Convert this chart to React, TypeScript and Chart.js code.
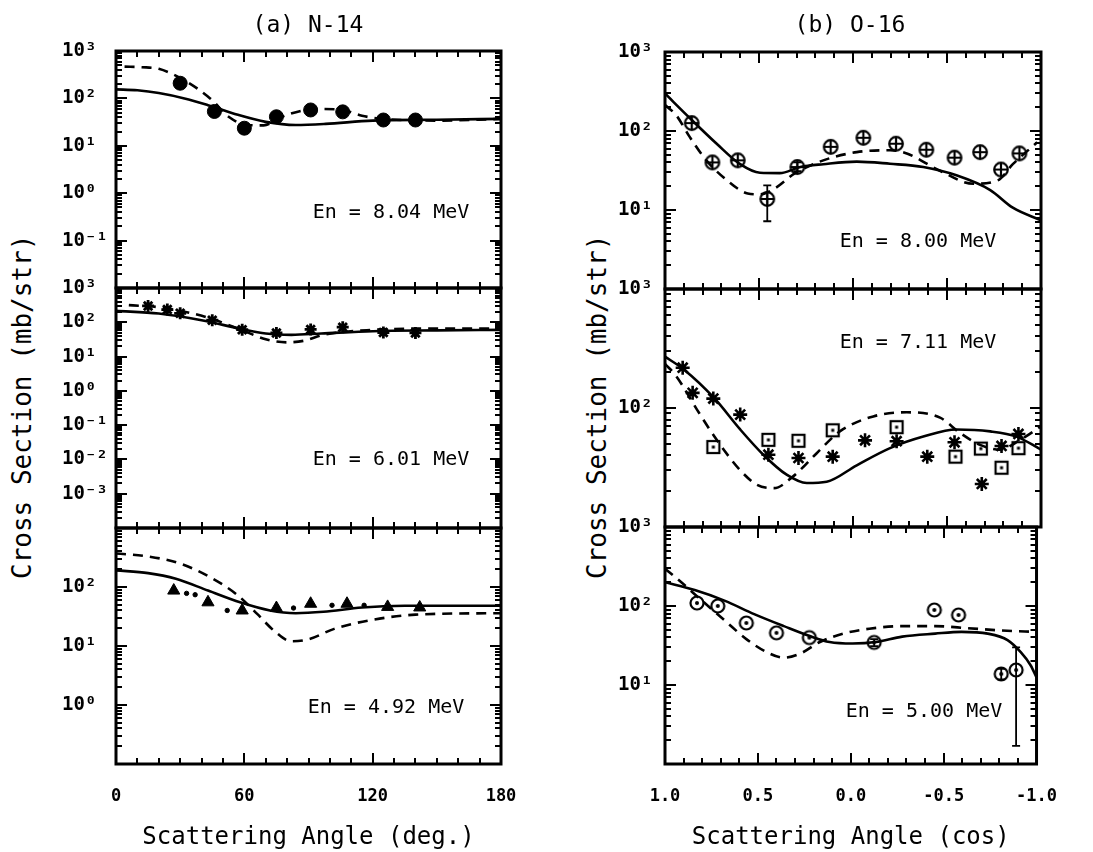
import React, { useEffect, useRef } from "react";
import { Chart, registerables } from "chart.js";
Chart.register(...registerables);

type Pt = [number, number];
type Err = [number, number, number];

const FONT = '"DejaVu Sans Mono", "Liberation Mono", monospace';
const PAGE_H = 852;

// ---------- tick labels ----------
const DEG_TICKS = [0, 60, 120, 180];
const COS_TICKS = [1, 0.5, 0, -0.5, -1];
const YLAB_A1 = [1000, 100, 10, 1, 0.1];
const YLAB_A2 = [1000, 100, 10, 1, 0.1, 0.01, 0.001];
const YLAB_A3 = [100, 10, 1];
const YLAB_B1 = [1000, 100, 10];
const YLAB_B2 = [1000, 100];
const YLAB_B3 = [1000, 100, 10];

// ---------- (a) N-14, En = 8.04 MeV ----------
const a804Exp: Pt[] = [[30, 209], [46, 53], [60, 23.5], [75, 41], [91, 57], [106, 52], [125, 35], [140, 35]];
const a804Solid: Pt[] = [[0, 155], [10, 148], [20, 130], [32, 100], [43, 72], [57, 45], [70, 32], [84, 27.5], [98, 29], [120, 34], [150, 35.5], [180, 37]];
const a804Dash: Pt[] = [[4, 467], [12, 455], [20, 420], [32, 240], [44, 100], [53, 40], [61, 27.5], [69, 27], [77, 40], [87, 55], [95, 60], [106, 57], [115, 43], [125, 37], [150, 34], [180, 37]];

// ---------- (a) N-14, En = 6.01 MeV ----------
const a601Exp: Pt[] = [[15, 300], [24, 235], [30, 183], [45, 115], [59, 61], [75, 49], [91, 62], [106, 72], [125, 50], [140, 49]];
const a601Solid: Pt[] = [[0, 215], [20, 180], [40, 115], [58, 65], [70, 47], [82, 43], [96, 47], [120, 55], [150, 58], [180, 60]];
const a601Dash: Pt[] = [[6, 316], [20, 275], [42, 143], [58, 62], [70, 32], [80, 26], [88, 29], [97, 43], [120, 60], [150, 66], [180, 66]];

// ---------- (a) N-14, En = 4.92 MeV ----------
const a492Exp: Pt[] = [[27, 87], [43, 55], [59, 40], [75, 44], [91, 52], [108, 52], [127, 46], [142, 45]];
const a492Dots: Pt[] = [[33, 78], [37, 74], [52, 40], [83, 44], [101, 49], [116, 49]];
const a492Solid: Pt[] = [[0, 191], [15, 172], [28, 138], [43, 87], [58, 55], [72, 40], [84, 36], [97, 38], [115, 45], [135, 48], [180, 48]];
const a492Dash: Pt[] = [[0, 370], [15, 330], [30, 250], [45, 140], [57, 72], [66, 35], [74, 18], [82, 12], [90, 13], [102, 19.5], [118, 27], [140, 34], [180, 36]];

// ---------- (b) O-16, En = 8.00 MeV ----------
const b800Exp: Pt[] = [[0.858, 126], [0.748, 40], [0.613, 42.5], [0.456, 13.8], [0.296, 35], [0.119, 63], [-0.055, 82], [-0.229, 69], [-0.39, 58], [-0.54, 46], [-0.676, 54], [-0.787, 32.5], [-0.885, 52]];
const b800Err: Err[] = [[0.456, 7.2, 20.5], [0.296, 31, 40]];
const b800Solid: Pt[] = [[1.0, 298], [0.867, 145], [0.725, 69], [0.6, 38], [0.495, 29.6], [0.39, 29.3], [0.28, 35], [0.158, 38], [-0.02, 41], [-0.197, 38.5], [-0.374, 35], [-0.55, 27.5], [-0.73, 17.9], [-0.85, 10.7], [-1.0, 7.4]];
const b800Dash: Pt[] = [[1.0, 213], [0.94, 158], [0.867, 83], [0.78, 42.5], [0.67, 23.7], [0.56, 16.2], [0.495, 15.8], [0.42, 18.5], [0.31, 29], [0.158, 42.5], [-0.02, 54], [-0.197, 57], [-0.29, 51.5], [-0.46, 31.6], [-0.64, 21.5], [-0.77, 23.7], [-0.85, 38], [-0.98, 72]];

// ---------- (b) O-16, En = 7.11 MeV ----------
const b711Stars: Pt[] = [[0.906, 218], [0.853, 134], [0.743, 120], [0.6, 88], [0.45, 40.5], [0.29, 38], [0.108, 39], [-0.064, 53.5], [-0.232, 52.6], [-0.395, 39], [-0.54, 51.5], [-0.685, 23], [-0.79, 48], [-0.88, 60.5]];
const b711Squares: Pt[] = [[0.743, 47], [0.45, 54], [0.29, 53], [0.108, 65], [-0.232, 69], [-0.545, 39], [-0.68, 45.6], [-0.79, 31.5], [-0.88, 46]];
const b711Solid: Pt[] = [[1.0, 270], [0.9, 211], [0.74, 122], [0.6, 66], [0.477, 40.5], [0.353, 27.5], [0.246, 23.4], [0.14, 24], [-0.02, 33], [-0.197, 46], [-0.374, 57.5], [-0.55, 66], [-0.73, 63.6], [-0.87, 57.5], [-1.0, 44.7]];
const b711Dash: Pt[] = [[1.0, 235], [0.94, 185], [0.83, 97], [0.725, 54], [0.6, 30], [0.51, 22.6], [0.42, 21.2], [0.32, 26.5], [0.193, 41.7], [0.07, 63.6], [-0.108, 85], [-0.286, 92], [-0.463, 83], [-0.57, 61.6], [-0.676, 49], [-0.78, 44.7], [-0.89, 54], [-1.0, 70]];

// ---------- (b) O-16, En = 5.00 MeV ----------
const b500Exp: Pt[] = [[0.828, 109], [0.716, 100], [0.562, 61], [0.4, 45.7], [0.223, 39.8], [-0.126, 34.6], [-0.45, 89], [-0.58, 77], [-0.81, 13.8], [-0.89, 15.5]];
const b500Err: Err[] = [[-0.126, 31, 38], [-0.81, 11.8, 16], [-0.89, 1.7, 30]];
const b500Solid: Pt[] = [[1.0, 200], [0.84, 159], [0.68, 117], [0.52, 79], [0.36, 55.6], [0.22, 41.6], [0.114, 35], [-0.01, 33.5], [-0.135, 35], [-0.277, 41], [-0.454, 44.7], [-0.596, 47], [-0.737, 44.7], [-0.844, 37], [-0.915, 26], [-0.968, 17.8], [-1.0, 12.5]];
const b500Dash: Pt[] = [[1.0, 296], [0.92, 207], [0.81, 122], [0.68, 66], [0.555, 37], [0.45, 25.9], [0.36, 22.2], [0.27, 25.1], [0.166, 35], [0.041, 44.7], [-0.1, 51.6], [-0.277, 55.6], [-0.454, 55.6], [-0.63, 52.4], [-0.81, 49], [-1.0, 47]];

// ---------- helpers ----------
type Markers = { oplus: HTMLCanvasElement; odot: HTMLCanvasElement; sqdot: HTMLCanvasElement };
type Tick = { v: number; major: boolean };

function makeMarker(kind: string): HTMLCanvasElement {
  const c = document.createElement("canvas");
  c.width = 18;
  c.height = 18;
  const g = c.getContext("2d")!;
  g.strokeStyle = "#000";
  g.fillStyle = "#000";
  g.lineWidth = 2.2;
  if (kind === "oplus") {
    g.beginPath();
    g.arc(9, 9, 6.8, 0, Math.PI * 2);
    g.stroke();
    g.beginPath();
    g.moveTo(9, 2);
    g.lineTo(9, 16);
    g.moveTo(2, 9);
    g.lineTo(16, 9);
    g.stroke();
  } else if (kind === "odot") {
    g.beginPath();
    g.arc(9, 9, 6.5, 0, Math.PI * 2);
    g.stroke();
    g.beginPath();
    g.arc(9, 9, 2, 0, Math.PI * 2);
    g.fill();
  } else {
    g.strokeRect(3, 3, 12, 12);
    g.fillRect(7.5, 7.5, 3, 3);
  }
  return c;
}

function curve(pts: Pt[], dashed: boolean) {
  return {
    data: pts.map(([x, y]) => ({ x, y })),
    borderColor: "#000",
    borderWidth: 2.6,
    borderDash: dashed ? [10, 7] : [],
    pointRadius: 0,
    cubicInterpolationMode: "monotone",
    fill: false,
    order: 1,
  };
}

function marks(pts: Pt[], style: any, radius: number, filled: boolean, bw: number) {
  return {
    data: pts.map(([x, y]) => ({ x, y })),
    showLine: false,
    pointStyle: style,
    pointRadius: radius,
    pointBackgroundColor: filled ? "#000" : "rgba(0,0,0,0)",
    pointBorderColor: "#000",
    pointBorderWidth: bw,
    order: 0,
  };
}

const SUP: Record<string, string> = { "-": "\u207B", "0": "\u2070", "1": "\u00B9", "2": "\u00B2", "3": "\u00B3", "4": "\u2074" };
function fmtPow(v: number) {
  const e = Math.round(Math.log10(v));
  return "10" + String(e).split("").map((c) => SUP[c]).join("");
}

interface PanelDef {
  key: string;
  kind: "deg" | "cos";
  plotL: number;
  plotR: number;
  plotT: number;
  plotB: number;
  labelW: number;
  yMin: number;
  yMax: number;
  yLabels: number[];
  bottom: boolean;
  xTitle: string;
  energy: string;
  ex: number;
  ey: number;
  errors: Err[];
  sets: (m: Markers) => any[];
}

const PAD_T = 16;
const PAD_B = 16;
const PAD_R = 30;

const LC = { plotL: 116, plotR: 501, labelW: 54 };
const RC = { plotL: 665, plotR: 1041, labelW: 47 };

const PANELS: PanelDef[] = [
  {
    key: "a1", kind: "deg", ...LC, plotT: 51, plotB: 288, yMin: 0.01, yMax: 1000, yLabels: YLAB_A1,
    bottom: false, xTitle: "", energy: "En = 8.04 MeV", ex: 391, ey: 213, errors: [],
    sets: () => [marks(a804Exp, "circle", 7, true, 1), curve(a804Solid, false), curve(a804Dash, true)],
  },
  {
    key: "a2", kind: "deg", ...LC, plotT: 288, plotB: 528, yMin: 0.0001, yMax: 1000, yLabels: YLAB_A2,
    bottom: false, xTitle: "", energy: "En = 6.01 MeV", ex: 391, ey: 460, errors: [],
    sets: () => [marks(a601Exp, "star", 6, false, 2.8), curve(a601Solid, false), curve(a601Dash, true)],
  },
  {
    key: "a3", kind: "deg", ...LC, plotT: 528, plotB: 764, yMin: 0.1, yMax: 1000, yLabels: YLAB_A3,
    bottom: true, xTitle: "Scattering Angle (deg.)", energy: "En = 4.92 MeV", ex: 386, ey: 708, errors: [],
    sets: () => [
      marks(a492Exp, "triangle", 7, true, 1),
      marks(a492Dots, "circle", 2.2, true, 1),
      curve(a492Solid, false),
      curve(a492Dash, true),
    ],
  },
  {
    key: "b1", kind: "cos", ...RC, plotT: 52, plotB: 289, yMin: 1, yMax: 1000, yLabels: YLAB_B1,
    bottom: false, xTitle: "", energy: "En = 8.00 MeV", ex: 918, ey: 242, errors: b800Err,
    sets: (m) => [marks(b800Exp, m.oplus, 9, false, 1), curve(b800Solid, false), curve(b800Dash, true)],
  },
  {
    key: "b2", kind: "cos", ...RC, plotT: 289, plotB: 527, yMin: 10, yMax: 1000, yLabels: YLAB_B2,
    bottom: false, xTitle: "", energy: "En = 7.11 MeV", ex: 918, ey: 343, errors: [],
    sets: (m) => [
      marks(b711Stars, "star", 7, false, 2.6),
      marks(b711Squares, m.sqdot, 9, false, 1),
      curve(b711Solid, false),
      curve(b711Dash, true),
    ],
  },
  {
    key: "b3", kind: "cos", ...RC, plotT: 527, plotB: 764, yMin: 1, yMax: 1000, yLabels: YLAB_B3,
    bottom: true, xTitle: "Scattering Angle (cos)", energy: "En = 5.00 MeV", ex: 924, ey: 712, errors: b500Err,
    sets: (m) => [marks(b500Exp, m.odot, 9, false, 1), curve(b500Solid, false), curve(b500Dash, true)],
  },
];

function canvasBox(p: PanelDef) {
  const left = p.plotL - p.labelW;
  const top = p.plotT - PAD_T;
  const width = p.labelW + (p.plotR - p.plotL) + PAD_R;
  const height = p.bottom ? PAGE_H - top : p.plotB - p.plotT + PAD_T + PAD_B;
  return { left, top, width, height };
}

function xTickList(kind: string): Tick[] {
  const out: Tick[] = [];
  if (kind === "deg") {
    for (let i = 0; i <= 18; i++) out.push({ v: i * 10, major: i % 6 === 0 });
  } else {
    for (let i = -10; i <= 10; i++) out.push({ v: i / 10, major: Math.abs(i) % 5 === 0 });
  }
  return out;
}

function yTickList(yMin: number, yMax: number): Tick[] {
  const out: Tick[] = [];
  const e0 = Math.round(Math.log10(yMin));
  const e1 = Math.round(Math.log10(yMax));
  for (let e = e0; e <= e1; e++) {
    for (let k = 1; k <= 9; k++) {
      const v = k * Math.pow(10, e);
      if (v <= yMax * 1.0001) out.push({ v, major: k === 1 });
    }
  }
  return out;
}

function makePlugin(p: PanelDef) {
  const box = canvasBox(p);
  const xt = xTickList(p.kind);
  const yt = yTickList(p.yMin, p.yMax);
  return {
    id: "frame" + p.key,
    beforeDatasetsDraw(chart: any) {
      const ctx: CanvasRenderingContext2D = chart.ctx;
      const xs = chart.scales.x;
      const ys = chart.scales.y;
      ctx.save();
      ctx.setLineDash([]);
      ctx.strokeStyle = "#000";
      ctx.lineWidth = 1.8;
      for (const er of p.errors) {
        const x = xs.getPixelForValue(er[0]);
        const y1 = ys.getPixelForValue(er[1]);
        const y2 = ys.getPixelForValue(er[2]);
        ctx.beginPath();
        ctx.moveTo(x, y1);
        ctx.lineTo(x, y2);
        ctx.moveTo(x - 4, y1);
        ctx.lineTo(x + 4, y1);
        ctx.moveTo(x - 4, y2);
        ctx.lineTo(x + 4, y2);
        ctx.stroke();
      }
      ctx.restore();
    },
    afterDatasetsDraw(chart: any) {
      const ctx: CanvasRenderingContext2D = chart.ctx;
      const a = chart.chartArea;
      const xs = chart.scales.x;
      const ys = chart.scales.y;
      ctx.save();
      ctx.setLineDash([]);
      ctx.fillStyle = "#000";
      for (const t of xt) {
        const x = Math.round(xs.getPixelForValue(t.v));
        const len = t.major ? 11 : 6;
        ctx.fillRect(x - 1, a.top, 2, len);
        ctx.fillRect(x - 1, a.bottom - len, 2, len);
      }
      for (const t of yt) {
        const y = Math.round(ys.getPixelForValue(t.v));
        const len = t.major ? 11 : 6;
        ctx.fillRect(a.left, y - 1, len, 2);
        ctx.fillRect(a.right - len, y - 1, len, 2);
      }
      ctx.lineWidth = 3;
      ctx.strokeStyle = "#000";
      ctx.strokeRect(a.left, a.top, a.right - a.left, a.bottom - a.top);
      ctx.font = "20px " + FONT;
      ctx.textAlign = "center";
      ctx.textBaseline = "middle";
      ctx.fillText(p.energy, p.ex - box.left, p.ey - box.top);
      ctx.restore();
    },
  };
}

function buildConfig(p: PanelDef, m: Markers): any {
  const isDeg = p.kind === "deg";
  return {
    type: "line",
    data: { datasets: p.sets(m) },
    options: {
      responsive: false,
      animation: false,
      devicePixelRatio: 1,
      events: [],
      layout: { padding: { left: 0, top: PAD_T, right: PAD_R, bottom: p.bottom ? 0 : PAD_B } },
      plugins: { legend: { display: false }, tooltip: { enabled: false } },
      scales: {
        x: {
          type: "linear",
          min: isDeg ? 0 : -1,
          max: isDeg ? 180 : 1,
          reverse: !isDeg,
          display: p.bottom,
          grid: { display: false },
          border: { display: false },
          afterBuildTicks: (s: any) => {
            s.ticks = (isDeg ? DEG_TICKS : COS_TICKS).map((v) => ({ value: v }));
          },
          ticks: {
            autoSkip: false,
            maxRotation: 0,
            padding: 14,
            color: "#000",
            font: { family: FONT, size: 17, weight: "bold" },
            callback: (v: number) => (isDeg ? String(v) : (Math.abs(v) < 1e-9 ? 0 : v).toFixed(1)),
          },
          title: {
            display: p.bottom,
            text: p.xTitle,
            color: "#000",
            font: { family: FONT, size: 24 },
            padding: 0,
          },
          afterFit: (s: any) => {
            if (p.bottom) s.height = PAGE_H - p.plotB;
          },
        },
        y: {
          type: "logarithmic",
          position: "left",
          min: p.yMin,
          max: p.yMax,
          grid: { display: false },
          border: { display: false },
          afterBuildTicks: (s: any) => {
            s.ticks = p.yLabels.map((v) => ({ value: v }));
          },
          ticks: {
            autoSkip: false,
            crossAlign: "far",
            color: "#000",
            font: { family: FONT, size: 19, weight: "bold" },
            callback: (v: number) => fmtPow(v),
          },
          afterFit: (s: any) => {
            s.width = p.labelW;
          },
        },
      },
    },
    plugins: [makePlugin(p)],
  };
}

function PanelChart({ def }: { def: PanelDef }) {
  const ref = useRef<HTMLCanvasElement>(null);
  const box = canvasBox(def);
  useEffect(() => {
    const m: Markers = { oplus: makeMarker("oplus"), odot: makeMarker("odot"), sqdot: makeMarker("sqdot") };
    const chart = new Chart(ref.current!, buildConfig(def, m));
    return () => chart.destroy();
  }, []);
  return (
    <canvas
      ref={ref}
      width={box.width}
      height={box.height}
      style={{ position: "absolute", left: box.left, top: box.top, width: box.width, height: box.height }}
    />
  );
}

function Text({ text, cx, cy, size, rotate }: { text: string; cx: number; cy: number; size: number; rotate?: boolean }) {
  const len = Math.ceil(text.length * size * 0.62) + 10;
  const th = Math.ceil(size * 1.3);
  const w = rotate ? th : len;
  const h = rotate ? len : th;
  return (
    <div
      style={{
        position: "absolute",
        left: cx - w / 2,
        top: cy - h / 2,
        width: w,
        height: h,
        lineHeight: th + "px",
        textAlign: "center",
        fontFamily: FONT,
        fontSize: size,
        color: "#000",
        whiteSpace: "nowrap",
        writingMode: rotate ? "vertical-rl" : undefined,
        transform: rotate ? "rotate(180deg)" : undefined,
      }}
    >
      {text}
    </div>
  );
}

export default function App() {
  return (
    <>
      {PANELS.map((p) => (
        <PanelChart key={p.key} def={p} />
      ))}
      <Text text="(a) N-14" cx={308} cy={24} size={23} />
      <Text text="(b) O-16" cx={850} cy={24} size={23} />
      <Text text="Cross Section (mb/str)" cx={22} cy={406} size={26} rotate />
      <Text text="Cross Section (mb/str)" cx={597} cy={406} size={26} rotate />
    </>
  );
}
